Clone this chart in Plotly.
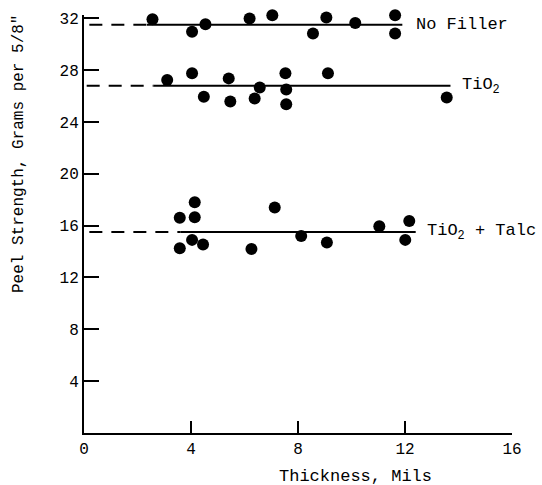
import plotly.graph_objects as go

# ---- data ----
nofill_x = [2.56, 4.04, 4.54, 6.19, 7.04, 8.56, 9.06, 10.14, 11.63, 11.63]
nofill_y = [31.92, 30.95, 31.54, 31.98, 32.23, 30.82, 32.05, 31.64, 32.23, 30.82]

tio2_x = [3.11, 4.04, 4.48, 5.41, 5.47, 6.38, 6.57, 7.53, 7.56, 7.56, 9.12, 13.56]
tio2_y = [27.23, 27.75, 25.95, 27.36, 25.57, 25.8, 26.65, 27.75, 26.5, 25.36, 27.75, 25.88]

talc_x = [3.58, 4.14, 4.14, 3.58, 4.04, 4.45, 6.26, 7.13, 8.12, 9.08, 11.04, 12.16, 12.01]
talc_y = [16.6, 17.8, 16.65, 14.25, 14.9, 14.55, 14.2, 17.4, 15.2, 14.7, 15.95, 16.35, 14.9]

series_names = ["No Filler", "TiO<sub>2</sub>", "TiO<sub>2</sub> + Talc"]
fit_level = [31.5, 26.8, 15.5]
fit_dash_start = [0.2, 0.1, 0.2]
fit_solid_start = [2.35, 2.6, 3.6]
fit_solid_end = [11.9, 13.7, 12.4]
label_x = [12.35, 14.05, 12.75]

x_ticks = [0, 4, 8, 12, 16]
y_ticks = [4, 8, 12, 16, 20, 24, 28, 32]

FONT = "Liberation Mono"

fig = go.Figure()

for lvl, d0, s0, s1 in zip(fit_level, fit_dash_start, fit_solid_start, fit_solid_end):
    fig.add_trace(go.Scatter(x=[d0, s0], y=[lvl, lvl], mode="lines",
                             line=dict(color="black", width=2, dash="13px,9px"),
                             showlegend=False, hoverinfo="skip"))
    fig.add_trace(go.Scatter(x=[s0, s1], y=[lvl, lvl], mode="lines",
                             line=dict(color="black", width=2),
                             showlegend=False, hoverinfo="skip"))

for xs, ys in [(nofill_x, nofill_y), (tio2_x, tio2_y), (talc_x, talc_y)]:
    fig.add_trace(go.Scatter(x=xs, y=ys, mode="markers",
                             marker=dict(color="black", size=12),
                             showlegend=False, cliponaxis=False))

W, H = 542, 485
L, R, T, B = 84, 30, 15, 52

def px_to_paper(px, py):
    return (px - L) / (W - L - R), (H - B - py) / (H - T - B)

annotations = []
for name, lx, lvl in zip(series_names, label_x, fit_level):
    annotations.append(dict(x=lx, y=lvl, xref="x", yref="y", text=name,
                            showarrow=False, xanchor="left", yanchor="middle",
                            font=dict(family=FONT, size=17, color="black")))

xt_x, xt_y = px_to_paper(355, 477)
annotations.append(dict(x=xt_x, y=xt_y, xref="paper", yref="paper", text="Thickness, Mils",
                        showarrow=False, xanchor="center", yanchor="middle",
                        font=dict(family=FONT, size=17, color="black")))
yt_x, yt_y = px_to_paper(19, 154)
annotations.append(dict(x=yt_x, y=yt_y, xref="paper", yref="paper",
                        text='Peel Strength, Grams per 5/8"', textangle=-90,
                        showarrow=False, xanchor="center", yanchor="middle",
                        font=dict(family=FONT, size=16, color="black")))

fig.update_layout(
    width=W, height=H,
    margin=dict(l=L, r=R, t=T, b=B),
    paper_bgcolor="white", plot_bgcolor="white",
    annotations=annotations,
    font=dict(family=FONT, size=16, color="black"),
    xaxis=dict(range=[0, 16], tickvals=x_ticks, ticktext=[str(v) for v in x_ticks],
               ticks="inside", ticklen=12, tickwidth=2, tickcolor="black",
               showline=True, linecolor="black", linewidth=2,
               showgrid=False, zeroline=False,
               tickfont=dict(family=FONT, size=16, color="black")),
    yaxis=dict(range=[0, 32.25], tickvals=y_ticks, ticktext=[str(v) for v in y_ticks],
               ticks="inside", ticklen=15, tickwidth=2, tickcolor="black",
               showline=True, linecolor="black", linewidth=2,
               showgrid=False, zeroline=False,
               tickfont=dict(family=FONT, size=16, color="black")),
)

fig.write_html("out.html")
